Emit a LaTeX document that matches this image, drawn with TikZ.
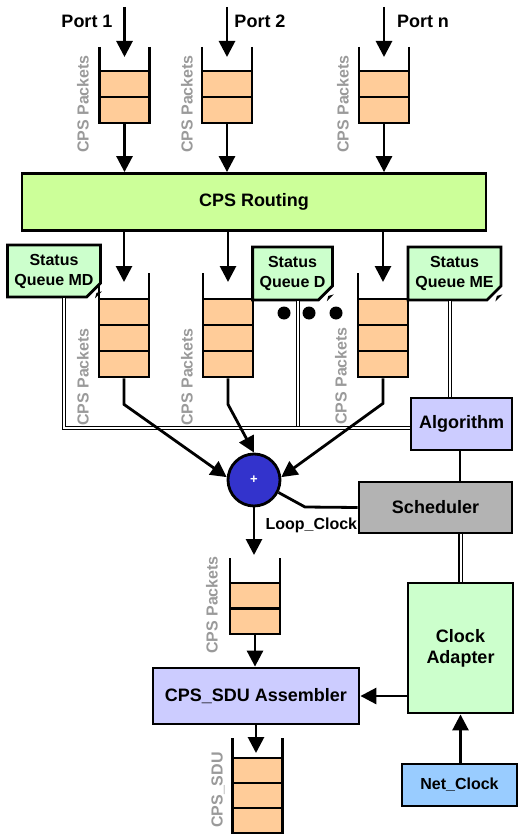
\documentclass[tikz,border=0pt]{standalone}
\usepackage{fontspec}
\setmainfont{Liberation Sans}
\usetikzlibrary{arrows.meta,shapes.misc}
\definecolor{peach}{HTML}{FFCC99}
\definecolor{routefill}{HTML}{CCFF99}
\definecolor{mint}{HTML}{CCFFCC}
\definecolor{lilac}{HTML}{CCCCFF}
\definecolor{schedgrey}{HTML}{B3B3B3}
\definecolor{skyblue}{HTML}{99CCFF}
\definecolor{mixblue}{HTML}{3333CC}
\definecolor{labelgrey}{HTML}{9A9A9A}

% a FIFO: name, centre x, wall top, first cell top, number of cells, cell height
\newcommand\fifo[6]{%
  \foreach \k in {1,...,#5}{\node[cell,minimum height=#6pt] (#1-\k) at (#2,{#4+(\k-0.5)*#6}) {};}
  \draw[wall] (#2-25,#3) -- (#2-25,{#4+#5*#6});
  \draw[wall] (#2+25,#3) -- (#2+25,{#4+#5*#6});
}

\begin{document}
\begin{tikzpicture}[x=1pt,y=-1pt,
  thk/.style={line width=2.8pt},
  arr/.style={thk,-{Triangle[length=16pt,width=16pt]}},
  dbl/.style={double,line width=1.2pt,double distance=2pt},
  cell/.style={rectangle,draw,thk,fill=peach,minimum width=50pt,inner sep=0pt},
  wall/.style={thk},
  box/.style={rectangle,draw,thk,inner sep=0pt,align=center,
              font=\fontsize{18}{21}\selectfont\bfseries},
  note/.style={chamfered rectangle,chamfered rectangle corners={south east},
               chamfered rectangle xsep=7pt,chamfered rectangle ysep=7pt,
               draw,thk,fill=mint,inner sep=0pt,align=center,
               font=\fontsize{16}{20}\selectfont\bfseries},
  lab/.style={font=\fontsize{18}{21}\selectfont\bfseries},
  vlab/.style={rotate=90,text=labelgrey,font=\fontsize{16}{18}\selectfont\bfseries},
  dot/.style={circle,fill,minimum size=13pt,inner sep=0pt}]
\useasboundingbox (0,0) rectangle (520,834);

% ---- input ports and their queues
\node[lab] (lp1) at (87,21) {Port 1};
\node[lab] (lp2) at (260,21) {Port 2};
\node[lab] (lp3) at (423,21) {Port n};
\coordinate (p1) at (124.5,7);  \coordinate (t1) at (124.5,57);
\coordinate (p2) at (227,7);    \coordinate (t2) at (227,57);
\coordinate (p3) at (384,7);    \coordinate (t3) at (384,57);
\fifo{q1}{124.5}{47}{71}{2}{26}
\fifo{q2}{227}{47}{71}{2}{26}
\fifo{q3}{384}{47}{71}{2}{26}
\draw[arr] (p1) -- (t1);
\draw[arr] (p2) -- (t2);
\draw[arr] (p3) -- (t3);
\node[vlab] (v1) at (83,104) {CPS Packets};
\node[vlab] (v2) at (187,104) {CPS Packets};
\node[vlab] (v3) at (343,104) {CPS Packets};

% ---- routing
\node[box,fill=routefill,minimum width=464pt,minimum height=57pt] (rt) at (254,202) {CPS Routing};
\draw[arr] (q1-2.south) -- (q1-2.south |- rt.north);
\draw[arr] (q2-2.south) -- (q2-2.south |- rt.north);
\draw[arr] (q3-2.south) -- (q3-2.south |- rt.north);

% ---- per-class queues
\coordinate (t4) at (124,282);
\coordinate (t5) at (228,282);
\coordinate (t6) at (383,282);
\draw[arr] (rt.south -| t4) -- (t4);
\draw[arr] (rt.south -| t5) -- (t5);
\draw[arr] (rt.south -| t6) -- (t6);
\fifo{q4}{124}{273}{299}{3}{26}
\fifo{q5}{228}{273}{299}{3}{26}
\fifo{q6}{383}{273}{299}{3}{26}
\node[vlab] (v4) at (83,377) {CPS Packets};
\node[vlab] (v5) at (187,377) {CPS Packets};
\node[vlab] (v6) at (341,376) {CPS Packets};
\node[dot] (d1) at (284,313) {};
\node[dot] (d2) at (309,313) {};
\node[dot] (d3) at (336,313) {};

% ---- status notes
\node[note,minimum width=90pt,minimum height=52pt] (smd) at (54,271) {Status\\Queue MD};
\node[note,minimum width=79pt,minimum height=53pt] (sd) at (292.5,273.5) {Status\\Queue D};
\node[note,minimum width=93pt,minimum height=53pt] (sme) at (454.5,273.5) {Status\\Queue ME};
\foreach \n in {smd,sd,sme}{
  \fill ([xshift=-7pt]\n.east |- \n.south) -- ([yshift=7pt]\n.east |- \n.south)
        -- ([xshift=-5.5pt,yshift=5.5pt]\n.east |- \n.south) -- cycle;
}

% ---- control blocks
\node[box,fill=lilac,minimum width=101pt,minimum height=52pt] (alg) at (461.5,424) {Algorithm};
\node[box,fill=schedgrey,minimum width=153pt,minimum height=51pt] (sch) at (435.5,507.5) {Scheduler};
\node[box,fill=mint,minimum width=105pt,minimum height=130pt] (ca) at (460.5,648) {Clock\\Adapter};
\node[box,fill=skyblue,minimum width=115pt,minimum height=42pt,
      font=\fontsize{16}{19}\selectfont\bfseries] (nc) at (459.5,785) {Net\_Clock};
\node[box,fill=lilac,minimum width=206pt,minimum height=56pt] (asm) at (256,696) {CPS\_SDU Assembler};

% ---- status bus
\coordinate (b1) at (64,428);
\coordinate (b2) at (298,428);
\draw[dbl] (sd.south -| b2) -- (b2);
\draw[dbl] (smd.south -| b1) -- (b1) -- (alg.west |- b1);
\draw[dbl] ([xshift=-4.5pt]sme.south) -- ([xshift=-4.5pt]sme.south |- alg.north);

% ---- merge point
\node[circle,draw,thk,fill=mixblue,minimum size=52pt,inner sep=0pt,text=white,
      font=\fontsize{13}{13}\selectfont\bfseries] (mx) at (254,480) {+};
\draw[arr] (q4-3.south) -- ++(0,26) -- (mx.174);
\draw[arr] (q5-3.south) -- ++(0,26) -- (mx.north);
\draw[arr] (q6-3.south) -- ++(0,25) -- (mx.6);
\coordinate (k1) at (305,507);
\draw[thk] (mx.-27) -- (k1) -- (sch.west);
\node[anchor=west,font=\fontsize{16}{18}\selectfont\bfseries] (lc) at (262,525) {Loop\_Clock};
\draw[thk] (alg.south -| 460,0) -- (sch.north -| 460,0);
\draw[dbl] (sch.south -| ca) -- (ca.north);

% ---- output side
\coordinate (t7) at (254,555);
\draw[arr] (mx.south) -- (t7);
\fifo{q7}{255}{558}{583}{2}{25.5}
\node[vlab] (v7) at (212,605) {CPS Packets};
\draw[arr] (q7-2.south) -- (q7-2.south |- asm.north);
\coordinate (t8) at (256,753);
\draw[arr] (asm.south) -- (t8);
\fifo{q8}{257.5}{738}{758}{3}{25}
\node[vlab] (v8) at (218,790) {CPS\_SDU};
\draw[arr] (ca.west |- asm.east) -- (asm.east);
\draw[arr] (nc.north -| ca) -- (ca.south);
\end{tikzpicture}
\end{document}
